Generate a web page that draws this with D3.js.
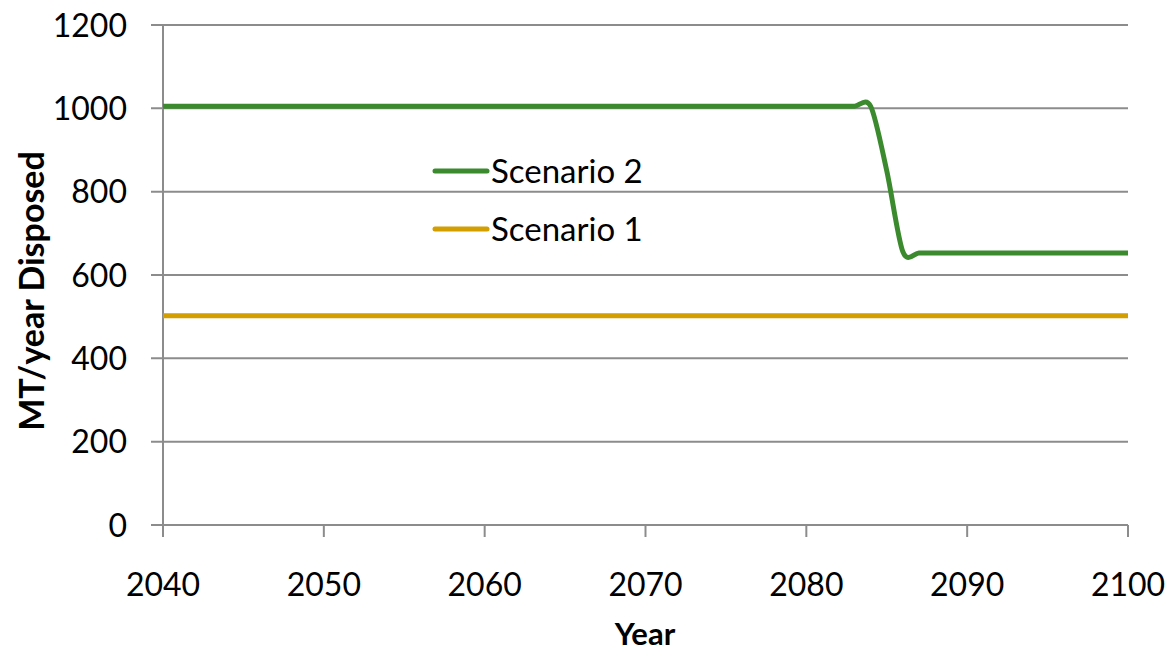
<!DOCTYPE html>
<html><head><meta charset="utf-8">
<script src="https://cdn.jsdelivr.net/npm/d3@7"></script>
<style>body{margin:0;background:#fff;}svg{display:block;font-family:Lato,"Open Sans",sans-serif;}</style>
</head><body>
<svg id="c" width="1165" height="653"></svg>
<script>
const years = [2040,2041,2042,2043,2044,2045,2046,2047,2048,2049,2050,2051,2052,2053,2054,2055,2056,2057,2058,2059,2060,2061,2062,2063,2064,2065,2066,2067,2068,2069,2070,2071,2072,2073,2074,2075,2076,2077,2078,2079,2080,2081,2082,2083,2084,2085,2086,2087,2088,2089,2090,2091,2092,2093,2094,2095,2096,2097,2098,2099,2100];
const scenario2 = [1005,1005,1005,1005,1005,1005,1005,1005,1005,1005,1005,1005,1005,1005,1005,1005,1005,1005,1005,1005,1005,1005,1005,1005,1005,1005,1005,1005,1005,1005,1005,1005,1005,1005,1005,1005,1005,1005,1005,1005,1005,1005,1005,1005,1005,850,656,653,653,653,653,653,653,653,653,653,653,653,653,653,653];
const scenario1 = [502,502,502,502,502,502,502,502,502,502,502,502,502,502,502,502,502,502,502,502,502,502,502,502,502,502,502,502,502,502,502,502,502,502,502,502,502,502,502,502,502,502,502,502,502,502,502,502,502,502,502,502,502,502,502,502,502,502,502,502,502];
const xTicks = [2040,2050,2060,2070,2080,2090,2100];
const yTicks = [0,200,400,600,800,1000,1200];
const seriesNames = ["Scenario 2","Scenario 1"];
const colors = ["#3C8A2E","#D29E00"];

const svg = d3.select("#c");
const L=163, R=1128, T=25, B=525;
const x = d3.scaleLinear().domain([2040,2100]).range([L,R]);
const y = d3.scaleLinear().domain([0,1200]).range([B,T]);
const grid="#8c8c8c";

svg.append("g").selectAll("line").data(yTicks).join("line")
  .attr("x1",L-12).attr("x2",R).attr("y1",d=>y(d)).attr("y2",d=>y(d))
  .attr("stroke",grid).attr("stroke-width",2);
svg.append("line").attr("x1",L).attr("x2",L).attr("y1",T).attr("y2",B+12).attr("stroke",grid).attr("stroke-width",2);
svg.append("g").selectAll("line").data(xTicks.slice(1)).join("line")
  .attr("x1",d=>x(d)).attr("x2",d=>x(d)).attr("y1",B).attr("y2",B+12)
  .attr("stroke",grid).attr("stroke-width",2);
svg.append("g").selectAll("text").data(yTicks).join("text")
  .attr("x",127).attr("y",d=>y(d)).attr("dy","0.36em").attr("text-anchor","end")
  .attr("font-size",32).attr("fill","#000").text(d=>d);
svg.append("g").selectAll("text").data(xTicks).join("text")
  .attr("x",d=>x(d)).attr("y",596).attr("text-anchor","middle")
  .attr("font-size",32).attr("fill","#000").text(d=>d);
svg.append("text").attr("x",645).attr("y",645).attr("text-anchor","middle")
  .attr("font-size",31).attr("font-weight","bold").text("Year");
svg.append("text").attr("transform","translate(44,291) rotate(-90)").attr("text-anchor","middle")
  .attr("font-size",34).attr("font-weight","bold").text("MT/year Disposed");

const line = d3.line().x((d,i)=>x(years[i])).y(d=>y(d)).curve(d3.curveCardinal.tension(0.1));
svg.append("path").datum(scenario1).attr("d",line).attr("fill","none").attr("stroke",colors[1]).attr("stroke-width",5);
svg.append("path").datum(scenario2).attr("d",line).attr("fill","none").attr("stroke",colors[0]).attr("stroke-width",5);

const lg = svg.append("g");
seriesNames.forEach((n,i)=>{
  const yy = 171 + i*58;
  lg.append("line").attr("x1",435).attr("x2",487).attr("y1",yy).attr("y2",yy)
    .attr("stroke",colors[i]).attr("stroke-width",5).attr("stroke-linecap","round");
  lg.append("text").attr("x",491).attr("y",yy).attr("dy","0.36em").attr("font-size",33).text(n);
});
</script>
</body></html>
